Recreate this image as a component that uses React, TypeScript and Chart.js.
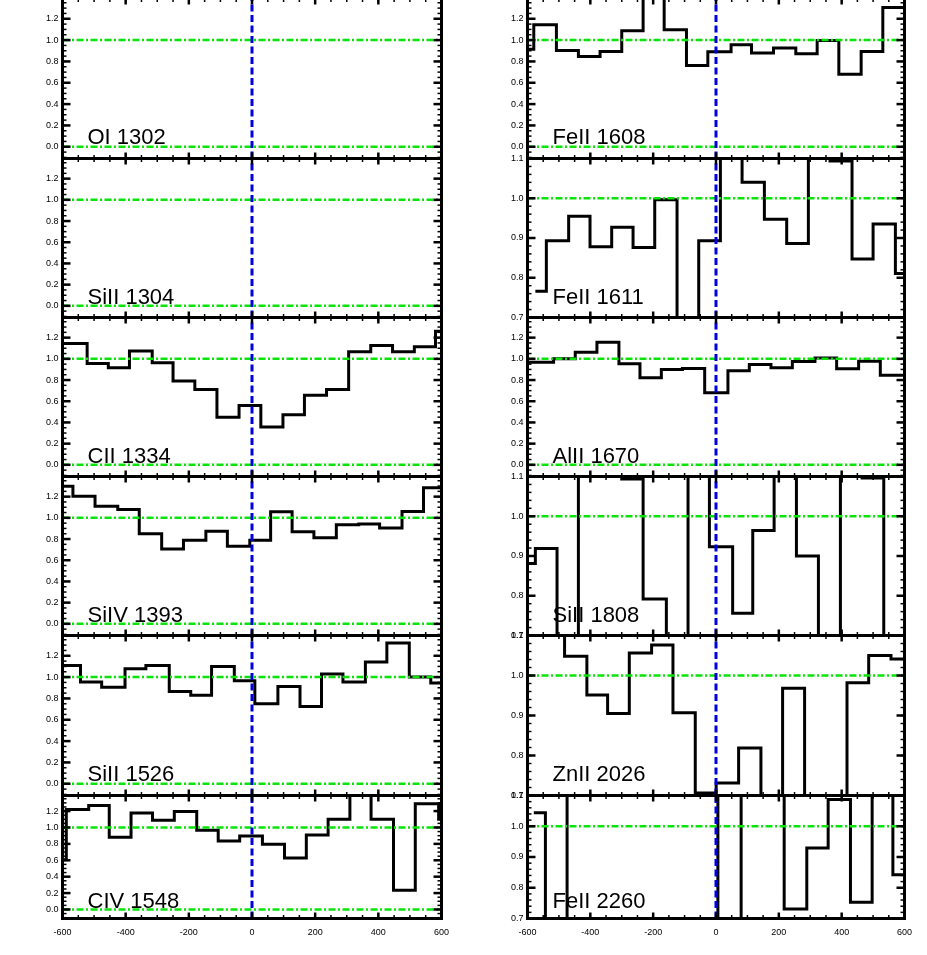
import React, { useEffect, useRef } from 'react';
import { Chart, registerables } from 'chart.js';

Chart.register(...registerables);

// ---------- axes ----------
const velocityRange = [-600, 600];
const velocityTicks = [-600, -400, -200, 0, 200, 400, 600];
const wideFluxRange = [-0.11, 1.39];
const wideFluxTicks = [0.0, 0.2, 0.4, 0.6, 0.8, 1.0, 1.2];
const narrowFluxRange = [0.7, 1.1];
const narrowFluxTicks = [0.7, 0.8, 0.9, 1.0, 1.1];
const continuumLevels = [0.0, 1.0];
const systemicVelocity = 0;

// ---------- spectra: bin edges (km/s) and normalised flux of each bin ----------
const oI1302Edges: number[] = [];
const oI1302Flux: number[] = [];

const siII1304Edges: number[] = [];
const siII1304Flux: number[] = [];

const cII1334Edges = [-640, -522, -455, -388, -316, -250, -181, -111, -41, 28, 98, 166, 236, 306, 376, 445, 514, 581, 640];
const cII1334Flux = [1.144, 0.956, 0.915, 1.075, 0.962, 0.792, 0.71, 0.449, 0.559, 0.358, 0.472, 0.657, 0.71, 1.066, 1.125, 1.066, 1.113, 1.26];

const siIV1393Edges = [-640, -567, -497, -425, -357, -286, -217, -146, -78, -7, 59, 127, 196, 267, 338, 404, 475, 543, 640];
const siIV1393Flux = [1.299, 1.204, 1.11, 1.079, 0.849, 0.707, 0.788, 0.873, 0.731, 0.788, 1.057, 0.868, 0.811, 0.934, 0.943, 0.905, 1.06, 1.284];

const siII1526Edges = [-640, -543, -476, -402, -336, -262, -194, -128, -56, 9, 82, 152, 220, 288, 359, 427, 498, 566, 640];
const siII1526Flux = [1.109, 0.953, 0.906, 1.078, 1.109, 0.865, 0.831, 1.1, 0.965, 0.749, 0.912, 0.724, 1.028, 0.953, 1.141, 1.32, 1.0, 0.944];

const cIV1548Edges = [-640, -588, -517, -452, -383, -315, -246, -175, -107, -39, 33, 103, 172, 241, 310, 377, 448, 517, 591, 640];
const cIV1548Flux = [0.606, 1.22, 1.269, 0.88, 1.176, 1.088, 1.196, 0.967, 0.835, 0.895, 0.795, 0.627, 0.907, 1.1, 1.6, 1.1, 0.233, 1.289, 1.1];

const feII1608Edges = [-650, -580, -508, -438, -369, -300, -232, -165, -94, -26, 48, 113, 183, 254, 322, 391, 462, 531, 601];
const feII1608Flux = [0.915, 1.144, 0.902, 0.846, 0.893, 1.087, 1.55, 1.097, 0.761, 0.89, 0.956, 0.878, 0.925, 0.871, 0.996, 0.68, 0.893, 1.306];

const feII1611Edges = [-575, -540, -469, -401, -332, -264, -195, -124, -55, 14, 83, 154, 225, 294, 363, 433, 500, 571, 640];
const feII1611Flux = [0.766, 0.893, 0.955, 0.878, 0.927, 0.876, 0.996, 0.6, 0.893, 1.2, 1.04, 0.947, 0.886, 1.2, 1.094, 0.847, 0.935, 0.811];

const alII1670Edges = [-640, -517, -448, -379, -309, -242, -174, -107, -36, 38, 106, 175, 243, 315, 384, 454, 523, 640];
const alII1670Flux = [0.968, 1.0, 1.062, 1.157, 0.953, 0.821, 0.899, 0.908, 0.679, 0.887, 0.946, 0.915, 0.975, 1.009, 0.906, 0.977, 0.845];

const siII1808Edges = [-640, -575, -506, -438, -369, -300, -232, -158, -89, -21, 53, 117, 185, 256, 326, 396, 465, 534, 640];
const siII1808Flux = [0.881, 0.919, 0.6, 1.2, 1.2, 1.094, 0.792, 0.6, 1.2, 0.923, 0.756, 0.964, 1.2, 0.9, 0.6, 1.2, 1.096, 0.6];

const znII2026Edges = [-620, -551, -482, -411, -345, -276, -205, -137, -66, 0.5, 72, 143, 212, 282, 349, 417, 486, 557, 640];
const znII2026Flux = [1.2, 1.2, 1.048, 0.951, 0.905, 1.056, 1.076, 0.907, 0.706, 0.731, 0.819, 0.6, 0.968, 0.6, 0.6, 0.982, 1.05, 1.041];

const feII2260Edges = [-580, -543, -474, -405, -336, -267, -198, -129, -60, 6, 80, 148, 217, 289, 357, 428, 497, 563, 640];
const feII2260Flux = [1.044, 0.6, 1.2, 1.2, 1.2, 1.2, 1.2, 1.2, 1.2, 0.6, 1.2, 1.2, 0.731, 0.929, 1.087, 0.753, 1.2, 0.842];

// ---------- panel list ----------
type PanelDef = { label: string; edges: number[]; flux: number[]; narrow: boolean; row: number; col: number };

const panelDefs: PanelDef[] = [
  { label: 'OI 1302', edges: oI1302Edges, flux: oI1302Flux, narrow: false, row: 0, col: 0 },
  { label: 'SiII 1304', edges: siII1304Edges, flux: siII1304Flux, narrow: false, row: 1, col: 0 },
  { label: 'CII 1334', edges: cII1334Edges, flux: cII1334Flux, narrow: false, row: 2, col: 0 },
  { label: 'SiIV 1393', edges: siIV1393Edges, flux: siIV1393Flux, narrow: false, row: 3, col: 0 },
  { label: 'SiII 1526', edges: siII1526Edges, flux: siII1526Flux, narrow: false, row: 4, col: 0 },
  { label: 'CIV 1548', edges: cIV1548Edges, flux: cIV1548Flux, narrow: false, row: 5, col: 0 },
  { label: 'FeII 1608', edges: feII1608Edges, flux: feII1608Flux, narrow: false, row: 0, col: 1 },
  { label: 'FeII 1611', edges: feII1611Edges, flux: feII1611Flux, narrow: true, row: 1, col: 1 },
  { label: 'AlII 1670', edges: alII1670Edges, flux: alII1670Flux, narrow: false, row: 2, col: 1 },
  { label: 'SiII 1808', edges: siII1808Edges, flux: siII1808Flux, narrow: true, row: 3, col: 1 },
  { label: 'ZnII 2026', edges: znII2026Edges, flux: znII2026Flux, narrow: true, row: 4, col: 1 },
  { label: 'FeII 2260', edges: feII2260Edges, flux: feII2260Flux, narrow: true, row: 5, col: 1 },
];

// ---------- layout (page pixels of each plot frame) ----------
const colLeft = [62.5, 527.5];
const colRight = [441.5, 904.5];
const rowTop = [-1.5, 158.5, 317.5, 476.5, 635.5, 795.5];
const rowBottom = [158.5, 317.5, 476.5, 635.5, 795.5, 918.5];
const LAST_ROW = 5;

const TICK_FONT = '"Liberation Sans", Arial, Helvetica, sans-serif';
const GREEN = 'rgb(10,228,10)';
const BLUE = 'rgb(0,0,225)';

function makeDecorPlugin(label: string, narrow: boolean) {
  return {
    id: 'panelDecor',
    afterDatasetsDraw(chart: any) {
      const { ctx, chartArea: a, scales } = chart;
      const xs = scales.x;
      const ys = scales.y;
      ctx.save();
      ctx.strokeStyle = '#000';
      ctx.lineCap = 'butt';
      const seg = (x1: number, y1: number, x2: number, y2: number, w: number) => {
        ctx.lineWidth = w;
        ctx.beginPath();
        ctx.moveTo(x1, y1);
        ctx.lineTo(x2, y2);
        ctx.stroke();
      };
      // x minor ticks
      const xStep = 50;
      for (let k = Math.ceil(xs.min / xStep); k <= Math.floor(xs.max / xStep); k++) {
        const px = xs.getPixelForValue(k * xStep);
        seg(px, a.top, px, a.top + 3.5, 1.5);
        seg(px, a.bottom, px, a.bottom - 3.5, 1.5);
      }
      for (const v of velocityTicks) {
        const px = xs.getPixelForValue(v);
        seg(px, a.top, px, a.top + 6, 2.5);
        seg(px, a.bottom, px, a.bottom - 6, 2.5);
      }
      // y ticks
      const yStep = narrow ? 0.02 : 0.05;
      for (let k = Math.ceil(ys.min / yStep - 1e-6); k <= Math.floor(ys.max / yStep + 1e-6); k++) {
        const py = ys.getPixelForValue(k * yStep);
        seg(a.left, py, a.left + 4, py, 1.5);
        seg(a.right, py, a.right - 4, py, 1.5);
      }
      for (const v of narrow ? narrowFluxTicks : wideFluxTicks) {
        const py = ys.getPixelForValue(v);
        seg(a.left, py, a.left + 8, py, 2.5);
        seg(a.right, py, a.right - 8, py, 2.5);
      }
      // panel label
      ctx.fillStyle = '#000';
      ctx.font = '22px ' + TICK_FONT;
      ctx.textAlign = 'left';
      ctx.textBaseline = 'alphabetic';
      ctx.fillText(label, a.left + 25, a.bottom - 0.088 * (a.bottom - a.top));
      // frame
      ctx.lineWidth = 3;
      ctx.strokeRect(a.left, a.top, a.right - a.left, a.bottom - a.top);
      ctx.restore();
    },
  };
}

function Panel({ def }: { def: PanelDef }) {
  const ref = useRef<HTMLCanvasElement | null>(null);
  const L = colLeft[def.col];
  const R = colRight[def.col];
  const T = rowTop[def.row];
  const B = rowBottom[def.row];
  const isBottom = def.row === LAST_ROW;
  const cx = Math.floor(L) - 54;
  const cy = Math.floor(T) - 10;
  const cw = Math.ceil(R) + 30 - cx;
  const ch = Math.ceil(B) + (isBottom ? 34 : 10) - cy;
  const yAxisW = L - cx;
  const padTop = T - cy;
  const padRight = cx + cw - R;
  const xAxisH = cy + ch - B;

  useEffect(() => {
    if (!ref.current) return;
    const yRange = def.narrow ? narrowFluxRange : wideFluxRange;
    const yTicks = def.narrow ? narrowFluxTicks : wideFluxTicks;
    // point i sits on the left edge of bin i; the last point closes the final bin
    const histData = def.edges.map((e, i) => ({ x: e, y: def.flux[Math.min(i, def.flux.length - 1)] }));
    const datasets: any[] = [
      {
        data: histData,
        stepped: 'before',
        borderColor: '#000',
        borderWidth: 3,
        pointRadius: 0,
        fill: false,
        order: 3,
      },
    ];
    continuumLevels
      .filter((lv) => lv >= yRange[0] && lv <= yRange[1])
      .forEach((lv) => {
        datasets.push({
          data: [
            { x: velocityRange[0], y: lv },
            { x: velocityRange[1], y: lv },
          ],
          borderColor: GREEN,
          borderWidth: 2.5,
          borderDash: [7, 2.5, 2, 2.5],
          pointRadius: 0,
          fill: false,
          order: 2,
        });
      });
    datasets.push({
      data: [
        { x: systemicVelocity, y: yRange[0] },
        { x: systemicVelocity, y: yRange[1] },
      ],
      borderColor: BLUE,
      borderWidth: 3,
      borderDash: [7, 3.5],
      pointRadius: 0,
      fill: false,
      order: 1,
    });

    const chart = new Chart(ref.current, {
      type: 'line',
      data: { datasets },
      options: {
        responsive: false,
        maintainAspectRatio: false,
        animation: false,
        events: [],
        layout: { padding: { top: padTop, right: padRight, left: 0, bottom: 0 } },
        plugins: { legend: { display: false }, tooltip: { enabled: false }, title: { display: false } },
        scales: {
          x: {
            type: 'linear',
            min: velocityRange[0],
            max: velocityRange[1],
            grid: { display: false, drawTicks: false },
            border: { display: false },
            afterBuildTicks: (s: any) => {
              s.ticks = velocityTicks.map((v) => ({ value: v }));
            },
            afterFit: (s: any) => {
              s.height = xAxisH;
            },
            ticks: {
              display: isBottom,
              autoSkip: false,
              maxRotation: 0,
              minRotation: 0,
              padding: 9,
              color: '#000',
              font: { size: 9, family: TICK_FONT },
              callback: (v: any) => String(v),
            },
          },
          y: {
            type: 'linear',
            min: yRange[0],
            max: yRange[1],
            grid: { display: false, drawTicks: false },
            border: { display: false },
            afterBuildTicks: (s: any) => {
              s.ticks = yTicks.map((v) => ({ value: v }));
            },
            afterFit: (s: any) => {
              s.width = yAxisW;
            },
            ticks: {
              autoSkip: false,
              padding: 4,
              color: '#000',
              font: { size: 9, family: TICK_FONT },
              callback: (v: any) => Number(v).toFixed(1),
            },
          },
        },
      } as any,
      plugins: [makeDecorPlugin(def.label, def.narrow)],
    });
    return () => chart.destroy();
  }, []);

  return (
    <canvas
      ref={ref}
      width={cw}
      height={ch}
      style={{ position: 'absolute', left: cx, top: cy, width: cw, height: ch }}
    />
  );
}

export default function App() {
  return (
    <div
      style={{
        position: 'absolute',
        left: 0,
        top: 0,
        width: 927,
        height: 955,
        overflow: 'hidden',
        background: '#fff',
      }}
    >
      {panelDefs.map((d) => (
        <Panel key={d.label} def={d} />
      ))}
    </div>
  );
}
